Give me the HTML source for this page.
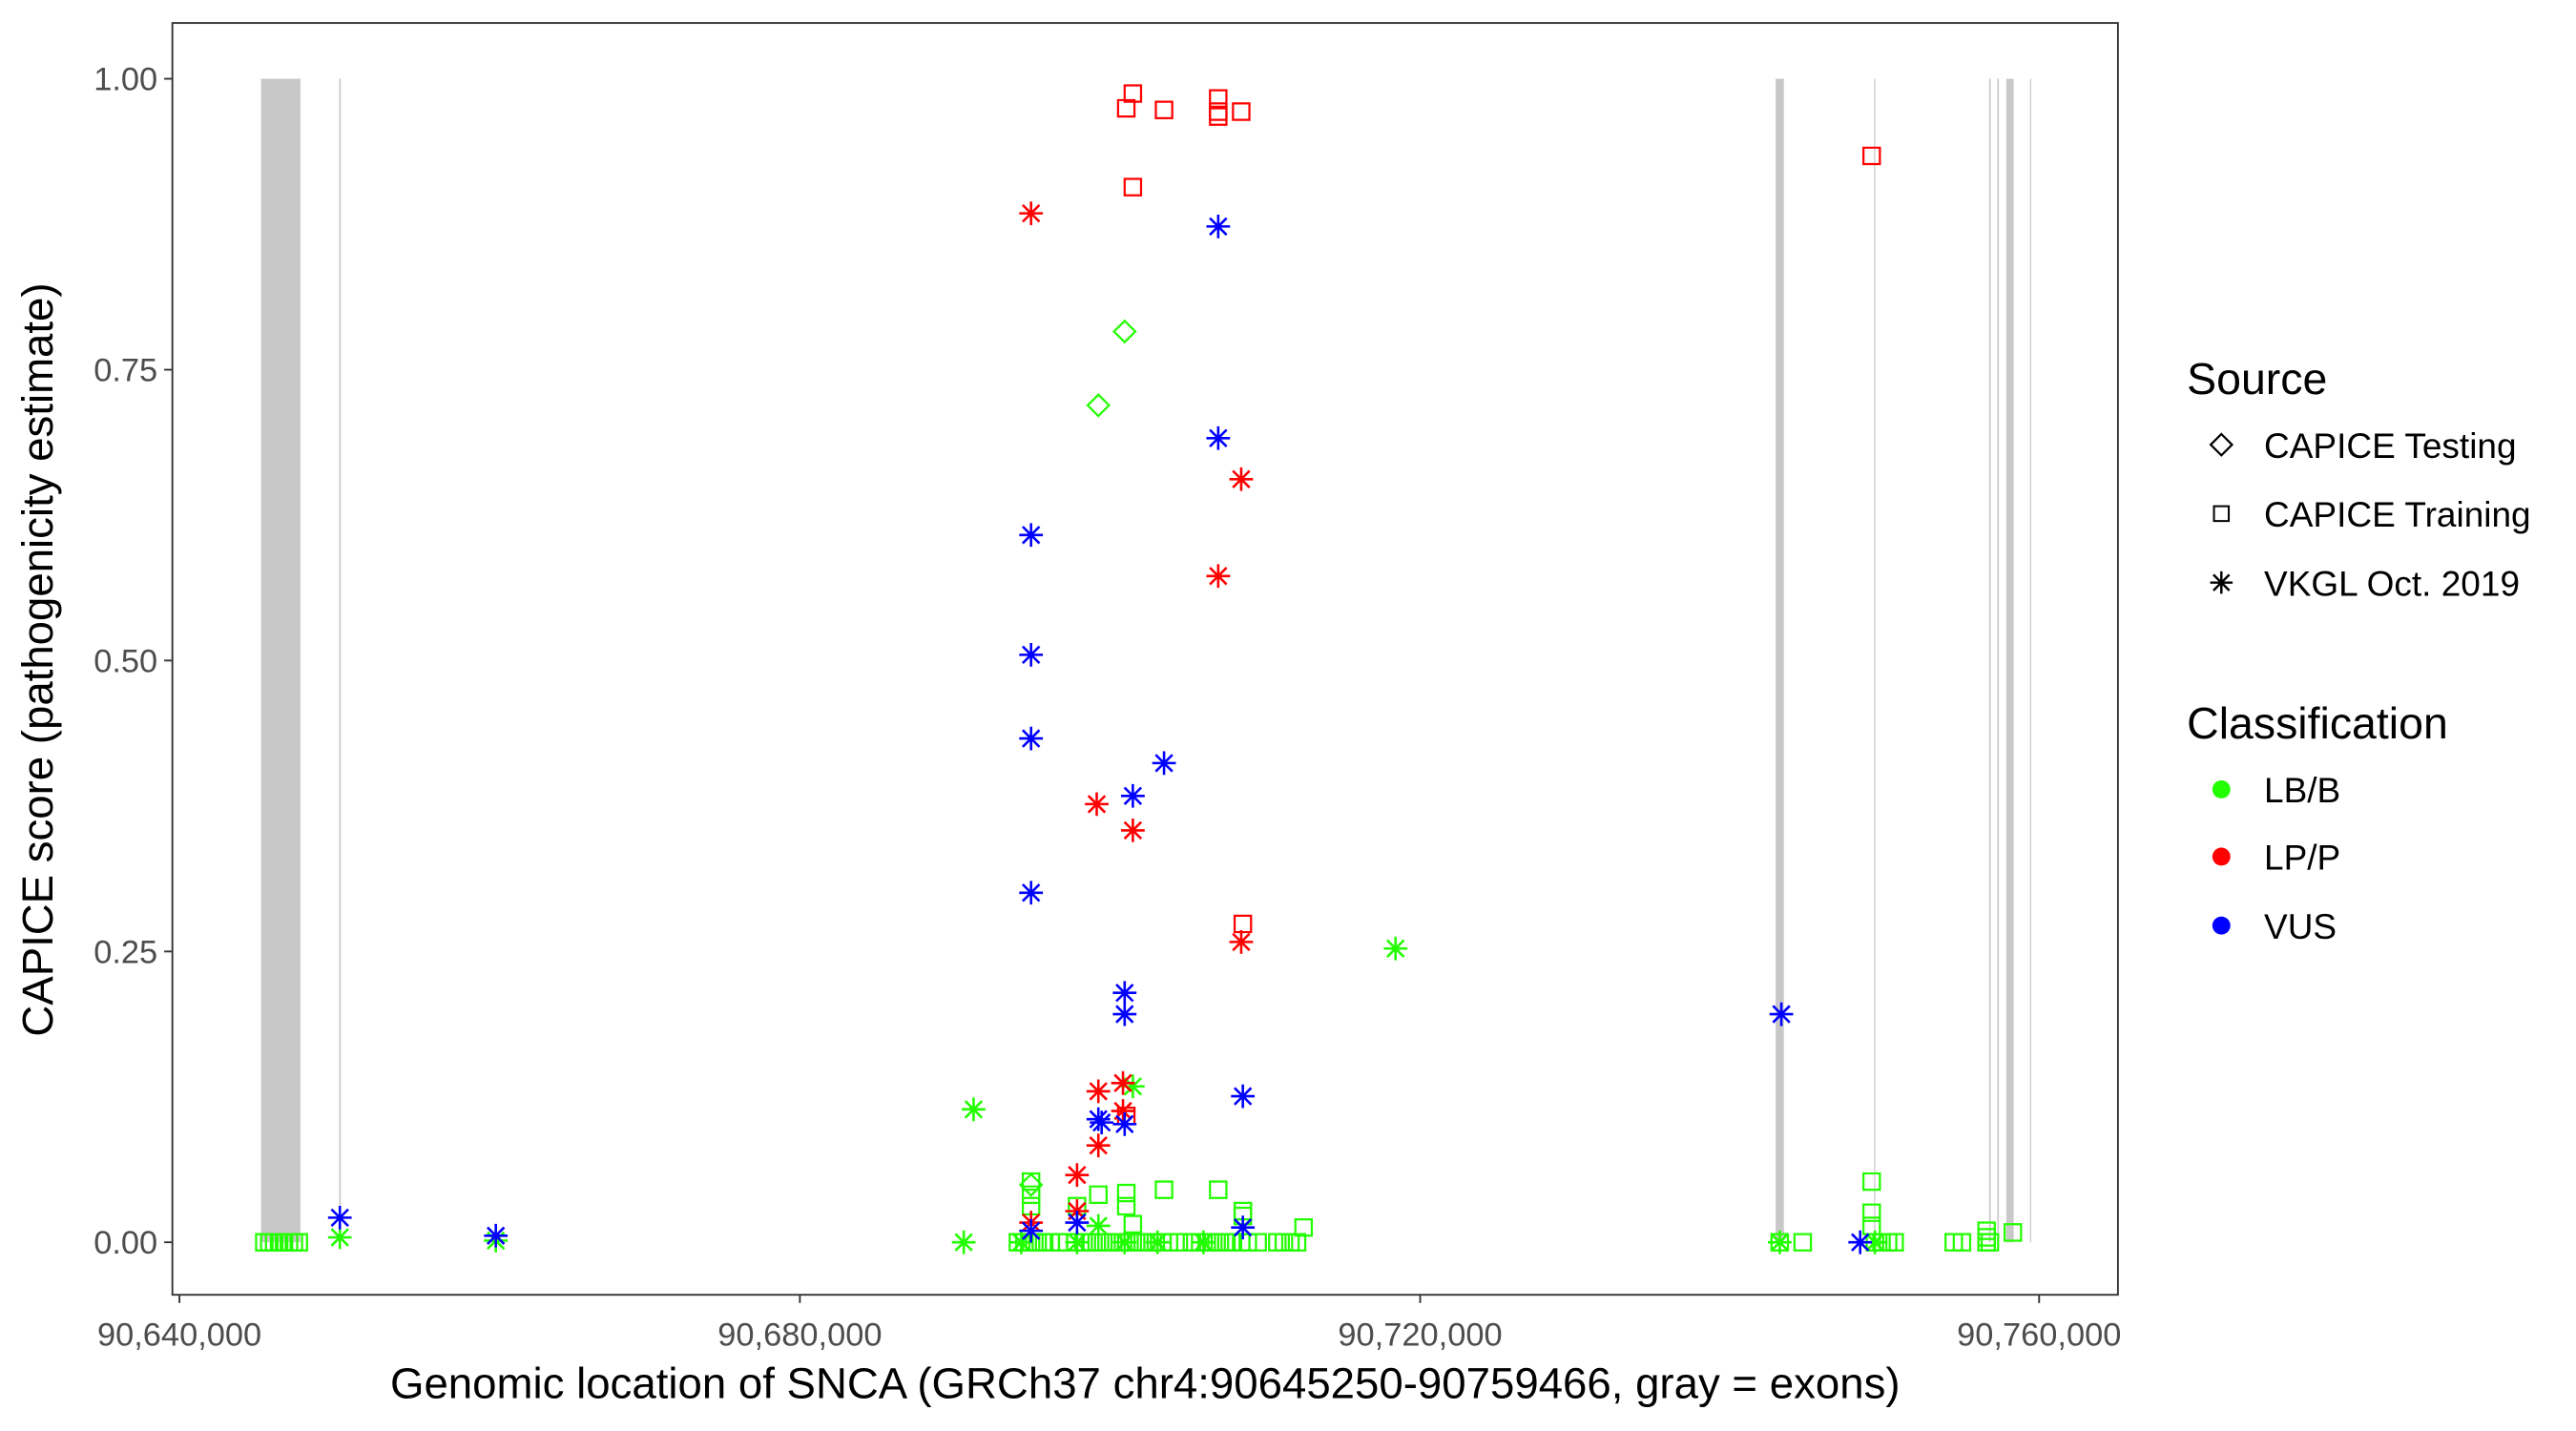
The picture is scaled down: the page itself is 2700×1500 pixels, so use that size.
<!DOCTYPE html>
<html><head><meta charset="utf-8"><style>
html,body{margin:0;padding:0;background:#fff;}
svg{display:block;}
text{font-family:"Liberation Sans",sans-serif;}
</style></head><body>
<svg width="2700" height="1500" viewBox="0 0 1569 872" preserveAspectRatio="none" xmlns="http://www.w3.org/2000/svg">
<defs>
<path id="sq" d="M-5,-5H5V5H-5Z" fill="none" stroke-width="1.3"/>
<path id="di" d="M0,-6.5L6.5,0L0,6.5L-6.5,0Z" fill="none" stroke-width="1.3"/>
<path id="as" d="M0,-7.2V7.2M-7.2,0H7.2M-5.1,-5.1L5.1,5.1M-5.1,5.1L5.1,-5.1" fill="none" stroke-width="1.5"/>
</defs>
<rect width="1569" height="872" fill="#fff"/>
<g fill="#c8c8c8">
<rect x="159" y="48" width="24" height="709"/>
<rect x="206.6" y="48" width="1" height="709"/>
<rect x="1081.5" y="48" width="5" height="709"/>
<rect x="1141.5" y="48" width="0.7" height="709"/>
<rect x="1211.5" y="48" width="1" height="709"/>
<rect x="1216.5" y="48" width="1" height="709"/>
<rect x="1222" y="48" width="4.5" height="709"/>
<rect x="1236.5" y="48" width="0.7" height="709"/>
</g>
<g stroke="#22ff00">
<use href="#sq" x="161" y="757"/><use href="#sq" x="164" y="757"/><use href="#sq" x="167" y="757"/><use href="#sq" x="170" y="757"/><use href="#sq" x="173" y="757"/><use href="#sq" x="176" y="757"/><use href="#sq" x="179" y="757"/><use href="#sq" x="182" y="757"/>
<use href="#sq" x="620" y="757"/><use href="#sq" x="624" y="757"/><use href="#sq" x="628" y="757"/><use href="#sq" x="632" y="757"/><use href="#sq" x="636" y="757"/><use href="#sq" x="640" y="757"/><use href="#sq" x="645" y="757"/><use href="#sq" x="650" y="757"/><use href="#sq" x="655" y="757"/><use href="#sq" x="660" y="757"/><use href="#sq" x="664" y="757"/><use href="#sq" x="668" y="757"/><use href="#sq" x="672" y="757"/><use href="#sq" x="676" y="757"/><use href="#sq" x="680" y="757"/><use href="#sq" x="684" y="757"/><use href="#sq" x="688" y="757"/><use href="#sq" x="692" y="757"/><use href="#sq" x="696" y="757"/><use href="#sq" x="700" y="757"/><use href="#sq" x="704" y="757"/><use href="#sq" x="708" y="757"/><use href="#sq" x="712" y="757"/><use href="#sq" x="718" y="757"/><use href="#sq" x="726" y="757"/><use href="#sq" x="731" y="757"/><use href="#sq" x="735" y="757"/><use href="#sq" x="739" y="757"/><use href="#sq" x="743" y="757"/><use href="#sq" x="747" y="757"/><use href="#sq" x="751" y="757"/><use href="#sq" x="756" y="757"/><use href="#sq" x="760" y="757"/><use href="#sq" x="766" y="757"/><use href="#sq" x="778" y="757"/><use href="#sq" x="782" y="757"/><use href="#sq" x="786" y="757"/><use href="#sq" x="790" y="757"/>
<use href="#sq" x="1084" y="757"/><use href="#sq" x="1098" y="757"/><use href="#sq" x="1142" y="757"/><use href="#sq" x="1146" y="757"/><use href="#sq" x="1150" y="757"/><use href="#sq" x="1154" y="757"/><use href="#sq" x="1190" y="757"/><use href="#sq" x="1195" y="757"/><use href="#sq" x="1210" y="757"/><use href="#sq" x="1212" y="757"/>
<use href="#sq" x="628" y="720"/><use href="#sq" x="628" y="728"/><use href="#sq" x="628" y="735"/><use href="#sq" x="669" y="728"/><use href="#sq" x="686" y="727"/><use href="#sq" x="686" y="735"/><use href="#sq" x="709" y="725"/><use href="#sq" x="742" y="725"/><use href="#sq" x="757" y="738"/><use href="#sq" x="757" y="741"/><use href="#sq" x="690" y="746"/><use href="#sq" x="794" y="748"/><use href="#sq" x="656" y="735"/><use href="#sq" x="1140" y="720"/><use href="#sq" x="1140" y="739"/><use href="#sq" x="1140" y="747"/><use href="#sq" x="1210" y="750"/><use href="#sq" x="1210" y="754"/><use href="#sq" x="1226" y="751"/>
<use href="#di" x="685" y="202"/><use href="#di" x="669" y="247"/><use href="#di" x="628" y="722"/>
<use href="#as" x="850" y="578"/><use href="#as" x="593" y="676"/><use href="#as" x="690" y="662"/><use href="#as" x="207" y="754"/><use href="#as" x="302" y="756"/><use href="#as" x="587" y="757"/><use href="#as" x="669" y="747"/><use href="#as" x="622" y="757"/><use href="#as" x="656" y="757"/><use href="#as" x="685" y="757"/><use href="#as" x="705" y="757"/><use href="#as" x="733" y="757"/><use href="#as" x="1084" y="757"/><use href="#as" x="1142" y="757"/>
</g>
<g stroke="#ff0000">
<use href="#sq" x="686" y="66"/><use href="#sq" x="690" y="57"/><use href="#sq" x="709" y="67"/><use href="#sq" x="742" y="60"/><use href="#sq" x="742" y="68"/><use href="#sq" x="742" y="71"/><use href="#sq" x="756" y="68"/><use href="#sq" x="690" y="114"/><use href="#sq" x="1140" y="95"/><use href="#sq" x="757" y="563"/><use href="#sq" x="686" y="680"/>
<use href="#as" x="628" y="130"/><use href="#as" x="756" y="292"/><use href="#as" x="742" y="351"/><use href="#as" x="668" y="490"/><use href="#as" x="690" y="506"/><use href="#as" x="756" y="574"/><use href="#as" x="684" y="660"/><use href="#as" x="669" y="665"/><use href="#as" x="684" y="677"/><use href="#as" x="669" y="698"/><use href="#as" x="656" y="716"/><use href="#as" x="628" y="745"/><use href="#as" x="656" y="738"/>
</g>
<g stroke="#0000ff">
<use href="#as" x="742" y="138"/><use href="#as" x="742" y="267"/><use href="#as" x="628" y="326"/><use href="#as" x="628" y="399"/><use href="#as" x="628" y="450"/><use href="#as" x="709" y="465"/><use href="#as" x="690" y="485"/><use href="#as" x="628" y="544"/><use href="#as" x="685" y="605"/><use href="#as" x="685" y="618"/><use href="#as" x="1085" y="618"/><use href="#as" x="757" y="668"/><use href="#as" x="669" y="682"/><use href="#as" x="671" y="684"/><use href="#as" x="685" y="685"/><use href="#as" x="207" y="742"/><use href="#as" x="302" y="753"/><use href="#as" x="757" y="748"/><use href="#as" x="656" y="745"/><use href="#as" x="628" y="750"/><use href="#as" x="1133" y="757"/>
</g>
<rect x="105" y="14" width="1185" height="775" fill="none" stroke="#333" stroke-width="1.1"/>
<g stroke="#333" stroke-width="1.1">
<line x1="100" x2="105" y1="48" y2="48"/><line x1="100" x2="105" y1="225.3" y2="225.3"/><line x1="100" x2="105" y1="402.5" y2="402.5"/><line x1="100" x2="105" y1="579.8" y2="579.8"/><line x1="100" x2="105" y1="757" y2="757"/>
<line x1="109.3" x2="109.3" y1="789" y2="794"/><line x1="487.2" x2="487.2" y1="789" y2="794"/><line x1="865" x2="865" y1="789" y2="794"/><line x1="1242" x2="1242" y1="789" y2="794"/>
</g>
<g fill="#4d4d4d" font-size="20" text-anchor="end">
<text x="96" y="55">1.00</text><text x="96" y="232.3">0.75</text><text x="96" y="409.5">0.50</text><text x="96" y="586.8">0.25</text><text x="96" y="764">0.00</text>
</g>
<g fill="#4d4d4d" font-size="20" text-anchor="middle">
<text x="109.3" y="820">90,640,000</text><text x="487.2" y="820">90,680,000</text><text x="865" y="820">90,720,000</text><text x="1242" y="820">90,760,000</text>
</g>
<text x="697.5" y="852" font-size="26.5" text-anchor="middle">Genomic location of SNCA (GRCh37 chr4:90645250-90759466, gray = exons)</text>
<text transform="translate(32,402) rotate(-90)" font-size="26.5" text-anchor="middle">CAPICE score (pathogenicity estimate)</text>
<text x="1332" y="240" font-size="27">Source</text>
<use href="#di" x="1353" y="271" stroke="#000"/>
<use href="#sq" x="1353" y="313" stroke="#000" transform="translate(1353,313) scale(0.9) translate(-1353,-313)"/>
<use href="#as" x="1353" y="355" stroke="#000" transform="translate(1353,355) scale(0.95) translate(-1353,-355)"/>
<g font-size="21.5"><text x="1379" y="279">CAPICE Testing</text><text x="1379" y="321">CAPICE Training</text><text x="1379" y="363">VKGL Oct. 2019</text></g>
<text x="1332" y="450" font-size="27">Classification</text>
<circle cx="1353" cy="481" r="5.5" fill="#22ff00"/><circle cx="1353" cy="522" r="5.5" fill="#ff0000"/><circle cx="1353" cy="564" r="5.5" fill="#0000ff"/>
<g font-size="21.5"><text x="1379" y="489">LB/B</text><text x="1379" y="530">LP/P</text><text x="1379" y="572">VUS</text></g>
</svg>
</body></html>
